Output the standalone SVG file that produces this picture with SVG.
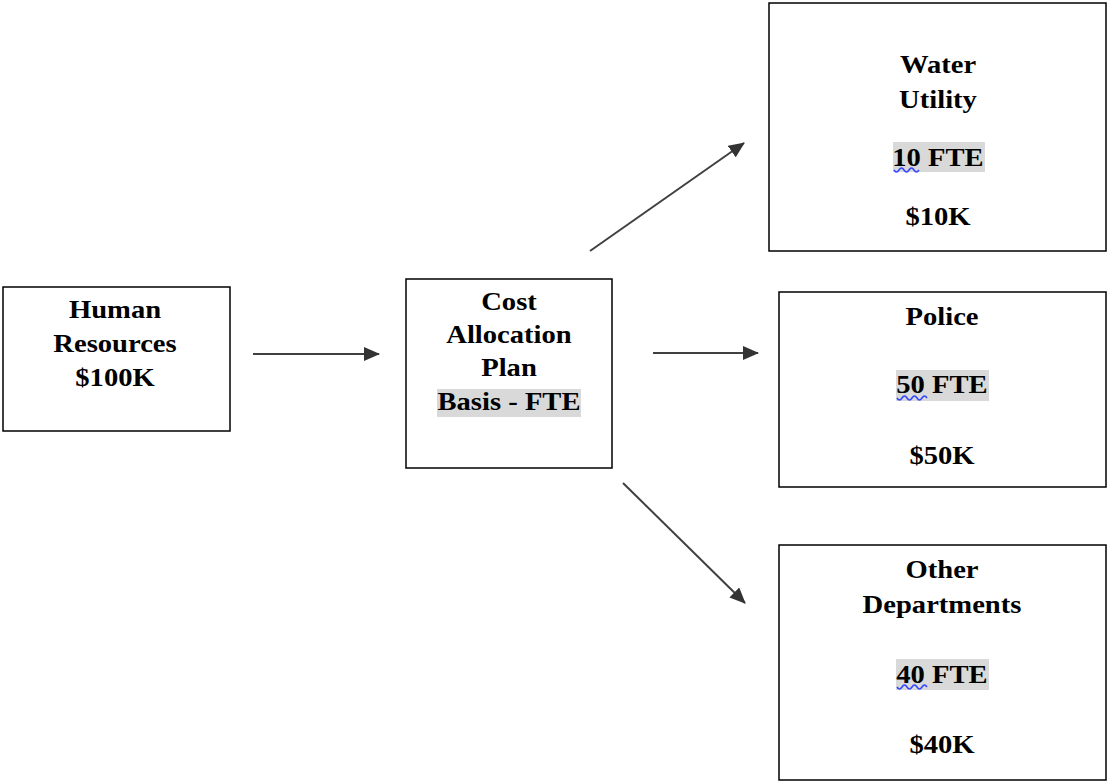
<svg xmlns="http://www.w3.org/2000/svg" width="1107" height="783" viewBox="0 0 1107 783">
<style>
.box{fill:#fff;stroke:#000;stroke-width:1.5}
.t{font-family:"Liberation Serif","Times New Roman",serif;font-weight:bold;font-size:26px;fill:#000;text-anchor:middle}
.hl{fill:#d9d9d9}
.conn{stroke:#404040;stroke-width:2;fill:none;marker-end:url(#ah)}
.wave{stroke:#3344ff;stroke-width:1.5;fill:none}
</style>
<defs>
<marker id="ah" viewBox="0 0 16 14" refX="15" refY="7" markerWidth="16" markerHeight="14" markerUnits="userSpaceOnUse" orient="auto">
<path d="M0,0 L16,7 L0,14 z" fill="#333"/>
</marker>
</defs>
<rect width="1107" height="783" fill="#fff"/>
<g id="connectors">
<line class="conn" x1="253" y1="354" x2="379" y2="354"/>
<line class="conn" x1="590" y1="251" x2="744" y2="143"/>
<line class="conn" x1="653" y1="353" x2="758" y2="353"/>
<line class="conn" x1="623" y1="483" x2="745" y2="603"/>
</g>
<g id="hr">
<rect class="box" x="3" y="287" width="227" height="144"/>
<g transform="translate(115,0) scale(1.1,1)">
<text class="t" x="0" y="318">Human</text>
<text class="t" x="0" y="352">Resources</text>
<text class="t" x="0" y="386">$100K</text>
</g>
</g>
<g id="cap">
<rect class="box" x="406" y="279" width="206" height="189"/>
<rect class="hl" x="437" y="389" width="144" height="28"/>
<g transform="translate(509,0) scale(1.1,1)">
<text class="t" x="0" y="310">Cost</text>
<text class="t" x="0" y="343">Allocation</text>
<text class="t" x="0" y="376">Plan</text>
<text class="t" x="0" y="410">Basis - FTE</text>
</g>
</g>
<g id="water">
<rect class="box" x="769" y="3" width="337" height="248"/>
<rect class="hl" x="893" y="142" width="92" height="30"/>
<g transform="translate(938,0) scale(1.1,1)">
<text class="t" x="0" y="73">Water</text>
<text class="t" x="0" y="108">Utility</text>
<text class="t" x="0" y="166">10 FTE</text>
<text class="t" x="0" y="225">$10K</text>
</g>
<path class="wave" d="M894,170 q2.5,4 5,0 q2.5,-4 5,0 q2.5,4 5,0 q2.5,-4 5,0 q2.5,4 5,0"/>
</g>
<g id="police">
<rect class="box" x="779" y="292" width="327" height="195"/>
<rect class="hl" x="896" y="370" width="93" height="31"/>
<g transform="translate(942,0) scale(1.1,1)">
<text class="t" x="0" y="325">Police</text>
<text class="t" x="0" y="393">50 FTE</text>
<text class="t" x="0" y="464">$50K</text>
</g>
<path class="wave" d="M897,398 q2.5,4 5,0 q2.5,-4 5,0 q2.5,4 5,0 q2.5,-4 5,0 q2.5,4 5,0 q2.5,-4 5,0"/>
</g>
<g id="other">
<rect class="box" x="779" y="545" width="327" height="235"/>
<rect class="hl" x="896" y="659" width="93" height="31"/>
<g transform="translate(942,0) scale(1.1,1)">
<text class="t" x="0" y="578">Other</text>
<text class="t" x="0" y="613">Departments</text>
<text class="t" x="0" y="683">40 FTE</text>
<text class="t" x="0" y="753">$40K</text>
</g>
<path class="wave" d="M897,687 q2.5,4 5,0 q2.5,-4 5,0 q2.5,4 5,0 q2.5,-4 5,0 q2.5,4 5,0 q2.5,-4 5,0"/>
</g>
</svg>
